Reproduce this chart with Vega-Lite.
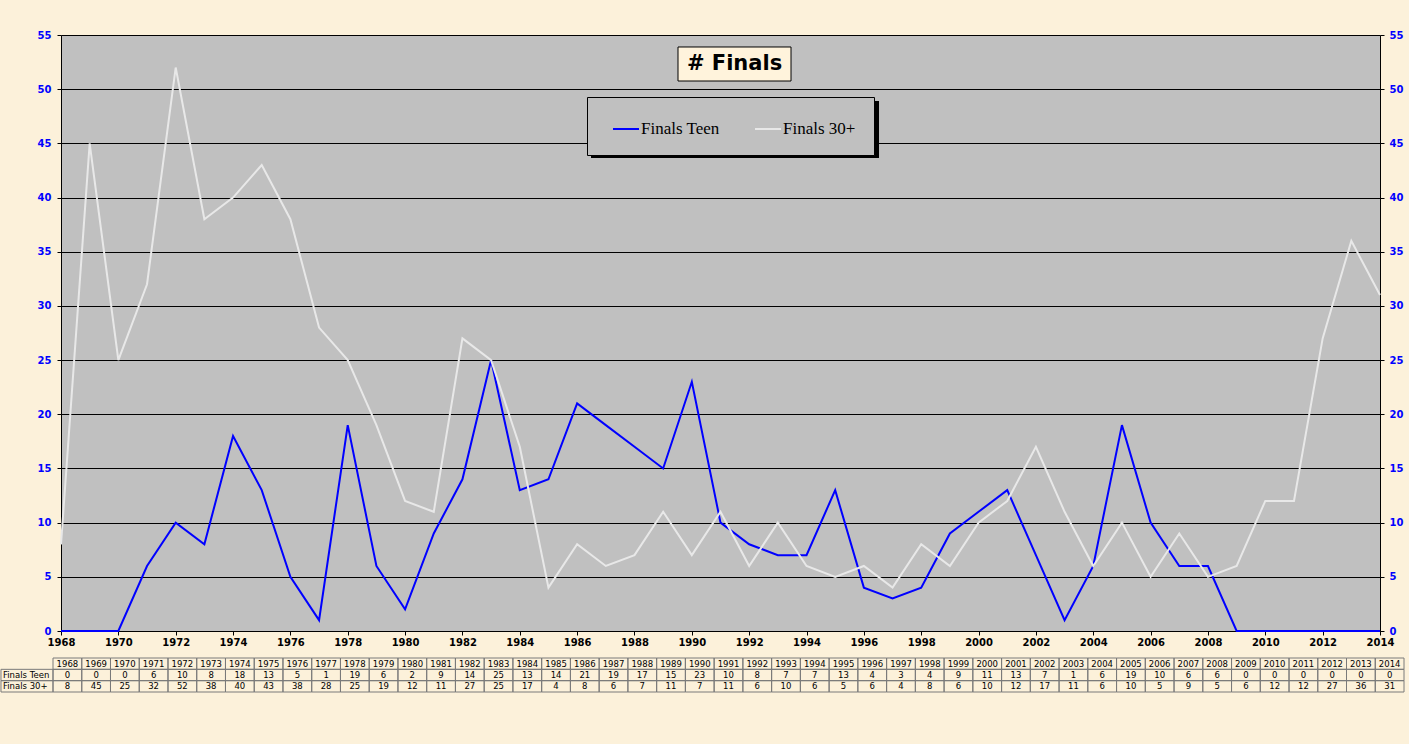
{
  "$schema": "https://vega.github.io/schema/vega-lite/v6.json",
  "background": "#fcf1da",
  "padding": {"left": 0, "top": 30, "right": 4, "bottom": 51},
  "config": {"font": "DejaVu Sans"},
  "spacing": 10,
  "resolve": {"scale": {"color": "independent"}},
  "datasets": {
    "finals": [
      {"year": 1968, "series": "Finals Teen", "value": 0}, {"year": 1969, "series": "Finals Teen", "value": 0},
      {"year": 1970, "series": "Finals Teen", "value": 0}, {"year": 1971, "series": "Finals Teen", "value": 6},
      {"year": 1972, "series": "Finals Teen", "value": 10}, {"year": 1973, "series": "Finals Teen", "value": 8},
      {"year": 1974, "series": "Finals Teen", "value": 18}, {"year": 1975, "series": "Finals Teen", "value": 13},
      {"year": 1976, "series": "Finals Teen", "value": 5}, {"year": 1977, "series": "Finals Teen", "value": 1},
      {"year": 1978, "series": "Finals Teen", "value": 19}, {"year": 1979, "series": "Finals Teen", "value": 6},
      {"year": 1980, "series": "Finals Teen", "value": 2}, {"year": 1981, "series": "Finals Teen", "value": 9},
      {"year": 1982, "series": "Finals Teen", "value": 14}, {"year": 1983, "series": "Finals Teen", "value": 25},
      {"year": 1984, "series": "Finals Teen", "value": 13}, {"year": 1985, "series": "Finals Teen", "value": 14},
      {"year": 1986, "series": "Finals Teen", "value": 21}, {"year": 1987, "series": "Finals Teen", "value": 19},
      {"year": 1988, "series": "Finals Teen", "value": 17}, {"year": 1989, "series": "Finals Teen", "value": 15},
      {"year": 1990, "series": "Finals Teen", "value": 23}, {"year": 1991, "series": "Finals Teen", "value": 10},
      {"year": 1992, "series": "Finals Teen", "value": 8}, {"year": 1993, "series": "Finals Teen", "value": 7},
      {"year": 1994, "series": "Finals Teen", "value": 7}, {"year": 1995, "series": "Finals Teen", "value": 13},
      {"year": 1996, "series": "Finals Teen", "value": 4}, {"year": 1997, "series": "Finals Teen", "value": 3},
      {"year": 1998, "series": "Finals Teen", "value": 4}, {"year": 1999, "series": "Finals Teen", "value": 9},
      {"year": 2000, "series": "Finals Teen", "value": 11}, {"year": 2001, "series": "Finals Teen", "value": 13},
      {"year": 2002, "series": "Finals Teen", "value": 7}, {"year": 2003, "series": "Finals Teen", "value": 1},
      {"year": 2004, "series": "Finals Teen", "value": 6}, {"year": 2005, "series": "Finals Teen", "value": 19},
      {"year": 2006, "series": "Finals Teen", "value": 10}, {"year": 2007, "series": "Finals Teen", "value": 6},
      {"year": 2008, "series": "Finals Teen", "value": 6}, {"year": 2009, "series": "Finals Teen", "value": 0},
      {"year": 2010, "series": "Finals Teen", "value": 0}, {"year": 2011, "series": "Finals Teen", "value": 0},
      {"year": 2012, "series": "Finals Teen", "value": 0}, {"year": 2013, "series": "Finals Teen", "value": 0},
      {"year": 2014, "series": "Finals Teen", "value": 0},
      {"year": 1968, "series": "Finals 30+", "value": 8}, {"year": 1969, "series": "Finals 30+", "value": 45},
      {"year": 1970, "series": "Finals 30+", "value": 25}, {"year": 1971, "series": "Finals 30+", "value": 32},
      {"year": 1972, "series": "Finals 30+", "value": 52}, {"year": 1973, "series": "Finals 30+", "value": 38},
      {"year": 1974, "series": "Finals 30+", "value": 40}, {"year": 1975, "series": "Finals 30+", "value": 43},
      {"year": 1976, "series": "Finals 30+", "value": 38}, {"year": 1977, "series": "Finals 30+", "value": 28},
      {"year": 1978, "series": "Finals 30+", "value": 25}, {"year": 1979, "series": "Finals 30+", "value": 19},
      {"year": 1980, "series": "Finals 30+", "value": 12}, {"year": 1981, "series": "Finals 30+", "value": 11},
      {"year": 1982, "series": "Finals 30+", "value": 27}, {"year": 1983, "series": "Finals 30+", "value": 25},
      {"year": 1984, "series": "Finals 30+", "value": 17}, {"year": 1985, "series": "Finals 30+", "value": 4},
      {"year": 1986, "series": "Finals 30+", "value": 8}, {"year": 1987, "series": "Finals 30+", "value": 6},
      {"year": 1988, "series": "Finals 30+", "value": 7}, {"year": 1989, "series": "Finals 30+", "value": 11},
      {"year": 1990, "series": "Finals 30+", "value": 7}, {"year": 1991, "series": "Finals 30+", "value": 11},
      {"year": 1992, "series": "Finals 30+", "value": 6}, {"year": 1993, "series": "Finals 30+", "value": 10},
      {"year": 1994, "series": "Finals 30+", "value": 6}, {"year": 1995, "series": "Finals 30+", "value": 5},
      {"year": 1996, "series": "Finals 30+", "value": 6}, {"year": 1997, "series": "Finals 30+", "value": 4},
      {"year": 1998, "series": "Finals 30+", "value": 8}, {"year": 1999, "series": "Finals 30+", "value": 6},
      {"year": 2000, "series": "Finals 30+", "value": 10}, {"year": 2001, "series": "Finals 30+", "value": 12},
      {"year": 2002, "series": "Finals 30+", "value": 17}, {"year": 2003, "series": "Finals 30+", "value": 11},
      {"year": 2004, "series": "Finals 30+", "value": 6}, {"year": 2005, "series": "Finals 30+", "value": 10},
      {"year": 2006, "series": "Finals 30+", "value": 5}, {"year": 2007, "series": "Finals 30+", "value": 9},
      {"year": 2008, "series": "Finals 30+", "value": 5}, {"year": 2009, "series": "Finals 30+", "value": 6},
      {"year": 2010, "series": "Finals 30+", "value": 12}, {"year": 2011, "series": "Finals 30+", "value": 12},
      {"year": 2012, "series": "Finals 30+", "value": 27}, {"year": 2013, "series": "Finals 30+", "value": 36},
      {"year": 2014, "series": "Finals 30+", "value": 31}
    ]
  },
  "vconcat": [
    {
      "width": 1319,
      "height": 596,
      "view": {"fill": "#c0c0c0", "stroke": null},
      "data": {"name": "finals"},
      "resolve": {"axis": {"y": "independent"}},
      "layer": [
        {
          "data": {"values": [{}]},
          "mark": {"type": "rect", "color": "#000000"},
          "encoding": {
            "x": {"datum": 1986.484, "type": "quantitative"},
            "x2": {"datum": 1996.528},
            "y": {"datum": 48.909, "type": "quantitative", "axis": null},
            "y2": {"datum": 43.649}
          }
        },
        {
          "mark": {"type": "line", "strokeWidth": 2},
          "encoding": {
            "x": {
              "field": "year", "type": "quantitative",
              "scale": {"domain": [1968, 2014], "nice": false, "zero": false},
              "axis": {
                "values": [1968, 1970, 1972, 1974, 1976, 1978, 1980, 1982, 1984, 1986, 1988, 1990, 1992, 1994, 1996, 1998, 2000, 2002, 2004, 2006, 2008, 2010, 2012, 2014],
                "format": "d", "title": null, "grid": false, "labelFlush": false, "labelOverlap": false,
                "domainColor": "#000000", "tickColor": "#000000", "tickSize": 4,
                "labelColor": "#000000", "labelFont": "DejaVu Sans", "labelFontWeight": "bold", "labelFontSize": 10, "labelPadding": 2
              }
            },
            "y": {
              "field": "value", "type": "quantitative",
              "scale": {"domain": [0, 55], "nice": false},
              "axis": {
                "orient": "left", "values": [0, 5, 10, 15, 20, 25, 30, 35, 40, 45, 50, 55], "title": null,
                "grid": true, "gridColor": "#000000", "gridOpacity": 1, "gridWidth": 1,
                "domainColor": "#000000", "tickColor": "#000000", "tickSize": 4,
                "labelColor": "#0000ff", "labelFont": "DejaVu Sans", "labelFontWeight": "bold", "labelFontSize": 10, "labelPadding": 6,
                "minExtent": 60
              }
            },
            "color": {
              "field": "series", "type": "nominal",
              "scale": {"domain": ["Finals Teen", "Finals 30+"], "range": ["#0000ff", "#e8e8e8"]},
              "legend": {
                "orient": "none", "legendX": 526, "legendY": 62, "direction": "horizontal", "title": null,
                "fillColor": "#c0c0c0", "strokeColor": "#000000", "padding": 18,
                "symbolType": "stroke", "symbolSize": 676, "symbolStrokeWidth": 2, "symbolOffset": 7,
                "labelFont": "Liberation Serif", "labelFontSize": 17, "labelColor": "#000000", "labelOffset": 1,
                "columnPadding": 27, "labelLimit": 200
              }
            }
          }
        },
        {
          "data": {"values": [{}]},
          "mark": {"type": "rect", "fill": "#fff3dc", "stroke": "#000000", "strokeWidth": 1},
          "encoding": {
            "x": {"datum": 1989.518, "type": "quantitative"},
            "x2": {"datum": 1993.459},
            "y": {"datum": 53.893, "type": "quantitative", "axis": null},
            "y2": {"datum": 50.755}
          }
        },
        {
          "data": {"values": [{}]},
          "mark": {"type": "text", "text": "# Finals", "font": "DejaVu Sans", "fontWeight": "bold", "fontSize": 21, "color": "#000000", "align": "center", "baseline": "middle"},
          "encoding": {
            "x": {"datum": 1991.49, "type": "quantitative"},
            "y": {"datum": 52.32, "type": "quantitative", "axis": null}
          }
        },
        {
          "mark": {"type": "point", "opacity": 0},
          "encoding": {
            "x": {"field": "year", "type": "quantitative"},
            "y": {
              "field": "value", "type": "quantitative",
              "axis": {
                "orient": "right", "values": [0, 5, 10, 15, 20, 25, 30, 35, 40, 45, 50, 55], "title": null, "grid": false,
                "domainColor": "#000000", "tickColor": "#000000", "tickSize": 4,
                "labelColor": "#0000ff", "labelFont": "DejaVu Sans", "labelFontWeight": "bold", "labelFontSize": 10, "labelPadding": 5
              }
            }
          }
        }
      ]
    },
    {
      "width": 1319,
      "height": 34,
      "view": {"stroke": null},
      "data": {"name": "finals"},
      "layer": [
        {
          "mark": {"type": "rect", "width": 28.745, "fillOpacity": 0, "stroke": "#7a7a7a", "strokeWidth": 1},
          "encoding": {
            "x": {"field": "year", "type": "quantitative", "scale": {"domain": [1967.778, 2013.665], "nice": false, "zero": false}, "axis": null},
            "y": {"field": "series", "type": "nominal", "scale": {"domain": ["Year", "Finals Teen", "Finals 30+"], "paddingInner": 0, "paddingOuter": 0}, "axis": null}
          }
        },
        {
          "transform": [{"filter": "datum.series === 'Finals Teen'"}],
          "mark": {"type": "rect", "width": 28.745, "fillOpacity": 0, "stroke": "#7a7a7a", "strokeWidth": 1},
          "encoding": {
            "x": {"field": "year", "type": "quantitative"},
            "y": {"datum": "Year", "type": "nominal"}
          }
        },
        {
          "data": {"values": [{"series": "Finals Teen"}, {"series": "Finals 30+"}]},
          "mark": {"type": "rect", "fillOpacity": 0, "stroke": "#7a7a7a", "strokeWidth": 1},
          "encoding": {
            "x": {"datum": 1965.69, "type": "quantitative"},
            "x2": {"datum": 1967.5},
            "y": {"field": "series", "type": "nominal"}
          }
        },
        {
          "mark": {"type": "text", "fontSize": 8.5, "color": "#000000", "font": "DejaVu Sans"},
          "encoding": {
            "x": {"field": "year", "type": "quantitative"},
            "y": {"field": "series", "type": "nominal"},
            "text": {"field": "value", "type": "quantitative"}
          }
        },
        {
          "transform": [{"filter": "datum.series === 'Finals Teen'"}],
          "mark": {"type": "text", "fontSize": 8.5, "color": "#000000", "font": "DejaVu Sans"},
          "encoding": {
            "x": {"field": "year", "type": "quantitative"},
            "y": {"datum": "Year", "type": "nominal"},
            "text": {"field": "year", "type": "nominal"}
          }
        },
        {
          "data": {"values": [{"series": "Finals Teen"}, {"series": "Finals 30+"}]},
          "mark": {"type": "text", "fontSize": 8.5, "color": "#000000", "font": "DejaVu Sans", "align": "left", "dx": 2},
          "encoding": {
            "x": {"datum": 1965.69, "type": "quantitative"},
            "y": {"field": "series", "type": "nominal"},
            "text": {"field": "series", "type": "nominal"}
          }
        }
      ]
    }
  ]
}
